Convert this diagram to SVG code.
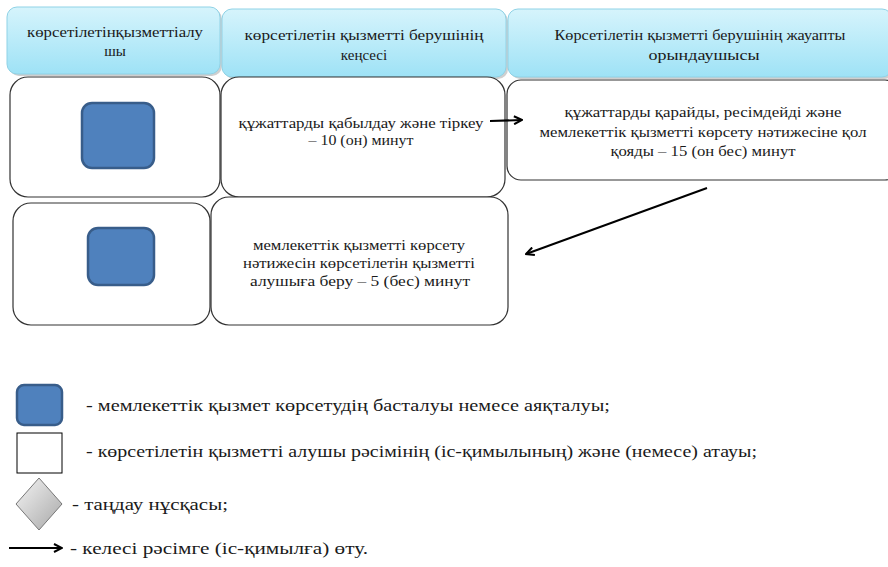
<svg xmlns="http://www.w3.org/2000/svg" width="888" height="567" viewBox="0 0 888 567">
<defs>
<linearGradient id="hg" x1="0" y1="0" x2="0" y2="1">
<stop offset="0" stop-color="#d6f4fc"/>
<stop offset="1" stop-color="#9ee2f6"/>
</linearGradient>
<linearGradient id="dg" x1="0" y1="0" x2="1" y2="1">
<stop offset="0" stop-color="#f4f4f4"/>
<stop offset="1" stop-color="#a8a8a8"/>
</linearGradient>
<marker id="ah" markerWidth="10" markerHeight="10" refX="9" refY="5" orient="auto" markerUnits="userSpaceOnUse">
<path d="M1,1 L9,5 L1,9" fill="none" stroke="#000" stroke-width="2"/>
</marker>
</defs>
<style>
.hdr{fill:url(#hg);stroke:#8fd2e6;stroke-width:1}
.sh{fill:#cfcfcf}
.box{fill:#fff;stroke:#333;stroke-width:1.2}
.blue{fill:#4f81bd;stroke:#385d8a;stroke-width:2.5}
.c{text-anchor:middle}
.conn{stroke:#000;stroke-width:2;fill:none;marker-end:url(#ah)}
</style>
<g font-family="Liberation Serif" font-size="15" fill="#1a1a1a">
<g id="header1"><rect class="sh" x="9" y="9" width="213" height="67" rx="10"/><rect class="hdr" x="7" y="7" width="213" height="67" rx="10"/>
<text class="c" x="115" y="37" textLength="176" lengthAdjust="spacingAndGlyphs">көрсетілетінқызметтіалу</text><text class="c" x="115" y="56">шы</text></g>
<g id="header2"><rect class="sh" x="224" y="11" width="284" height="68" rx="10"/><rect class="hdr" x="222" y="9" width="284" height="68" rx="10"/>
<text class="c" x="364" y="40" textLength="239" lengthAdjust="spacingAndGlyphs">көрсетілетін қызметті берушінің</text><text class="c" x="364" y="60">кеңсесі</text></g>
<g id="header3"><rect class="sh" x="510" y="11" width="384" height="68" rx="10"/><rect class="hdr" x="508" y="9" width="384" height="68" rx="10"/>
<text class="c" x="700" y="40" textLength="291" lengthAdjust="spacingAndGlyphs">Көрсетілетін қызметті берушінің жауапты</text><text class="c" x="704" y="60" textLength="111" lengthAdjust="spacingAndGlyphs">орындаушысы</text></g>

<g id="r1c1"><rect class="box" x="10" y="77" width="210" height="120" rx="18"/>
<rect class="blue" x="82" y="103" width="72" height="65" rx="10"/></g>
<g id="r1c2"><rect class="box" x="221" y="77" width="284" height="120" rx="18"/>
<text class="c" x="361" y="128" textLength="245" lengthAdjust="spacingAndGlyphs">құжаттарды қабылдау және тіркеу</text><text class="c" x="361" y="145" textLength="105" lengthAdjust="spacingAndGlyphs">– 10 (он) минут</text></g>
<g id="r1c3"><rect class="box" x="507" y="80" width="392" height="100" rx="14"/>
<text class="c" x="703" y="117" textLength="277" lengthAdjust="spacingAndGlyphs">құжаттарды қарайды, ресімдейді және</text>
<text class="c" x="703" y="137" textLength="327" lengthAdjust="spacingAndGlyphs">мемлекеттік қызметті көрсету нәтижесіне қол</text>
<text class="c" x="703" y="156" textLength="185" lengthAdjust="spacingAndGlyphs">қояды – 15 (он бес) минут</text></g>
<g id="r2c1"><rect class="box" x="13" y="203" width="197" height="122" rx="18"/>
<rect class="blue" x="88" y="228" width="66" height="57" rx="10"/></g>
<g id="r2c2"><rect class="box" x="211" y="197" width="297" height="128" rx="18"/>
<text class="c" x="359" y="250" textLength="212" lengthAdjust="spacingAndGlyphs">мемлекеттік қызметті көрсету</text>
<text class="c" x="359" y="268" textLength="232" lengthAdjust="spacingAndGlyphs">нәтижесін көрсетілетін қызметті</text>
<text class="c" x="360" y="286" textLength="220" lengthAdjust="spacingAndGlyphs">алушыға беру – 5 (бес) минут</text></g>

<g id="connectors">
<line class="conn" x1="490" y1="121" x2="522" y2="120"/>
<line class="conn" x1="707" y1="188" x2="526" y2="254"/>
</g>

<g id="legend" font-size="16">
<rect class="blue" x="17" y="385" width="45" height="40" rx="7"/>
<text x="86" y="411" textLength="524" lengthAdjust="spacingAndGlyphs">- мемлекеттік қызмет көрсетудің басталуы немесе аяқталуы;</text>
<rect x="17" y="433" width="45" height="40" fill="#fff" stroke="#000" stroke-width="1"/>
<text x="86" y="457" textLength="671" lengthAdjust="spacingAndGlyphs">- көрсетілетін қызметті алушы рәсімінің (іс-қимылының) және (немесе) атауы;</text>
<polygon points="39,478 62,504 39,530 16,504" fill="url(#dg)" stroke="#777" stroke-width="1"/>
<text x="72" y="510" textLength="156" lengthAdjust="spacingAndGlyphs">- таңдау нұсқасы;</text>
<line class="conn" x1="9" y1="548" x2="62" y2="548"/>
<text x="70" y="554" textLength="298" lengthAdjust="spacingAndGlyphs">- келесі рәсімге (іс-қимылға) өту.</text>
</g>
</g>
</svg>
